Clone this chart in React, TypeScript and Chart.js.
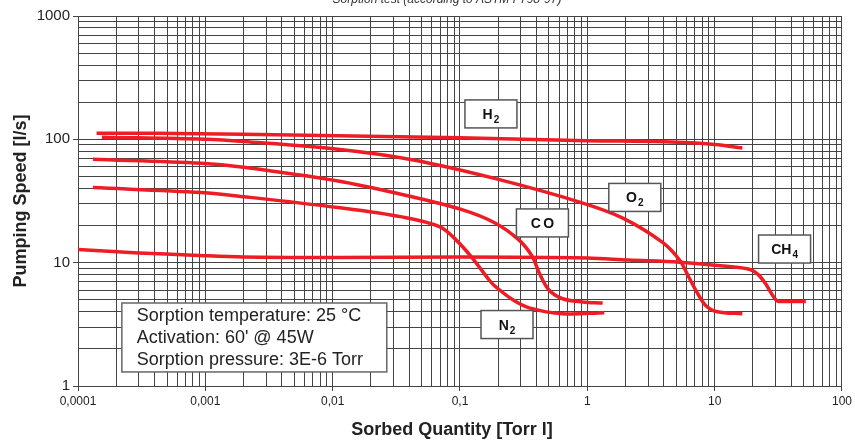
import React, { useEffect, useRef } from 'react';
import { Chart, registerables } from 'chart.js';

Chart.register(...registerables);

// ---- axis ticks ----
const xDecades = [0.0001, 0.001, 0.01, 0.1, 1, 10, 100];
const xTickLabels = ['0,0001', '0,001', '0,01', '0,1', '1', '10', '100'];
const yDecades = [1, 10, 100, 1000];
const yTickLabels = ['1', '10', '100', '1000'];

// ---- series (Sorbed Quantity [Torr l] vs Pumping Speed [l/s]) ----
const h2X = [0.00014, 0.0004, 0.002, 0.011, 0.1, 1, 4, 10, 16.5];
const h2Y = [112, 112, 110, 107, 103, 97.5, 95.5, 91, 85];

const o2X = [0.000154, 0.001, 0.002, 0.011, 0.043, 0.19, 0.87, 1.9, 3.9, 5.3, 6.2, 7.1, 8.5, 10.5, 16.5];
const o2Y = [104, 100, 96, 83, 68, 48, 31, 23, 14.6, 10.5, 7.8, 6.0, 4.5, 4.0, 3.85];

const coX = [0.000131, 0.00093, 0.002, 0.011, 0.032, 0.105, 0.19, 0.29, 0.37, 0.42, 0.5, 0.64, 0.92, 1.32];
const coY = [69, 64, 59.4, 46, 36.5, 26.8, 20.9, 15.3, 11.2, 8.2, 6.0, 5.1, 4.8, 4.7];

const n2X = [0.000131, 0.00093, 0.002, 0.011, 0.035, 0.069, 0.093, 0.126, 0.17, 0.19, 0.26, 0.35, 0.64, 1.36];
const n2Y = [40.6, 37, 34.3, 28, 23.5, 19.6, 15.3, 10.8, 7.2, 6.4, 5.0, 4.3, 3.85, 3.93];

const ch4X = [0.0001, 0.0003, 0.0008, 0.002, 0.011, 0.1, 1, 2.1, 5.3, 13, 19, 22, 25, 28, 31, 36, 52];
const ch4Y = [12.8, 12.0, 11.5, 11.1, 11.0, 11.1, 10.9, 10.5, 10.1, 9.3, 8.8, 8.0, 6.8, 5.6, 4.9, 4.85, 4.85];

// ---- gas label boxes (anchored in data space) ----
const gasMain = ['H', 'O', 'CO', 'CH', 'N'];
const gasSub = ['2', '2', '', '4', '2'];
const gasLabelX = [0.175, 2.36, 0.444, 35.4, 0.234];
const gasLabelY = [160.7, 33.8, 21.0, 12.9, 3.15];

// ---- info box ----
const infoLines = ['Sorption temperature: 25 °C', "Activation: 60' @ 45W", 'Sorption pressure: 3E-6 Torr'];
const infoBoxX = [0.000221, 0.0266];
const infoBoxY = [4.71, 1.3];

const chartTitle = 'Sorption test (according to ASTM F798-97)';
const xTitle = 'Sorbed Quantity [Torr l]';
const yTitle = 'Pumping Speed [l/s]';

const FONT = '"Liberation Sans", Arial, Helvetica, sans-serif';
const RED = '#ee1d25';
const GRID = '#444444';

function buildTicks(decades: number[]) {
  const out: number[] = [];
  for (let i = 0; i < decades.length - 1; i++) {
    for (let m = 1; m <= 9; m++) out.push(m * decades[i]);
  }
  out.push(decades[decades.length - 1]);
  return out;
}

function decadeIndex(v: number, decades: number[]) {
  for (let i = 0; i < decades.length; i++) {
    if (Math.abs(Math.log10(v) - Math.log10(decades[i])) < 1e-6) return i;
  }
  return -1;
}

function series(label: string, xs: number[], ys: number[]) {
  return {
    label,
    data: xs.map((x, i) => ({ x, y: ys[i] })),
    borderColor: RED,
    backgroundColor: RED,
    borderWidth: 3.5,
    pointRadius: 0,
    tension: 0.35,
    fill: false,
  };
}

const decorPlugin = {
  id: 'decor',
  afterDatasetsDraw(chart: any) {
    const ctx = chart.ctx;
    const xs = chart.scales.x;
    const ys = chart.scales.y;
    ctx.save();

    // gas labels
    for (let i = 0; i < gasMain.length; i++) {
      const cx = xs.getPixelForValue(gasLabelX[i]);
      const cy = ys.getPixelForValue(gasLabelY[i]);
      const w = 52;
      const h = 28;
      ctx.fillStyle = '#ffffff';
      ctx.fillRect(cx - w / 2, cy - h / 2, w, h);
      ctx.strokeStyle = '#555';
      ctx.lineWidth = 1.5;
      ctx.strokeRect(cx - w / 2, cy - h / 2, w, h);
      ctx.fillStyle = '#111';
      ctx.textBaseline = 'alphabetic';
      ctx.textAlign = 'left';
      const spacing = gasMain[i] === 'CO' ? 2.5 : 0;
      ctx.font = `bold 14px ${FONT}`;
      const chars = gasMain[i].split('');
      let mw = 0;
      chars.forEach((c, k) => {
        mw += ctx.measureText(c).width + (k < chars.length - 1 ? spacing : 0);
      });
      ctx.font = `bold 10px ${FONT}`;
      const sw = gasSub[i] ? ctx.measureText(gasSub[i]).width + 1 : 0;
      let px = cx - (mw + sw) / 2;
      const base = cy + 5;
      ctx.font = `bold 14px ${FONT}`;
      chars.forEach((c) => {
        ctx.fillText(c, px, base);
        px += ctx.measureText(c).width + spacing;
      });
      px -= spacing;
      if (gasSub[i]) {
        ctx.font = `bold 10px ${FONT}`;
        ctx.fillText(gasSub[i], px + 1, base + 4);
      }
    }

    // info box
    const bx0 = xs.getPixelForValue(infoBoxX[0]);
    const bx1 = xs.getPixelForValue(infoBoxX[1]);
    const by0 = ys.getPixelForValue(infoBoxY[0]);
    const by1 = ys.getPixelForValue(infoBoxY[1]);
    ctx.fillStyle = '#ffffff';
    ctx.fillRect(bx0, by0, bx1 - bx0, by1 - by0);
    ctx.strokeStyle = '#666';
    ctx.lineWidth = 1.5;
    ctx.strokeRect(bx0, by0, bx1 - bx0, by1 - by0);
    ctx.fillStyle = '#222';
    ctx.font = `18px ${FONT}`;
    ctx.textAlign = 'left';
    ctx.textBaseline = 'middle';
    infoLines.forEach((t, i) => {
      ctx.fillText(t, bx0 + 15, by0 + 13.5 + i * 22);
    });
    ctx.restore();
  },
  afterDraw(chart: any) {
    const ctx = chart.ctx;
    const area = chart.chartArea;
    ctx.save();
    // top title (clipped at the top edge)
    ctx.fillStyle = '#333';
    ctx.font = `italic 12px ${FONT}`;
    ctx.textAlign = 'center';
    ctx.textBaseline = 'alphabetic';
    ctx.fillText(chartTitle, 447, 3);

    // x axis title
    ctx.fillStyle = '#222';
    ctx.font = `bold 18px ${FONT}`;
    ctx.textBaseline = 'middle';
    ctx.fillText(xTitle, (area.left + area.right) / 2 - 8, 430);

    // y axis title
    ctx.translate(21, (area.top + area.bottom) / 2);
    ctx.rotate(-Math.PI / 2);
    ctx.fillText(yTitle, 0, 0);
    ctx.restore();
  },
};

export default function App() {
  const ref = useRef<HTMLCanvasElement | null>(null);

  useEffect(() => {
    if (!ref.current) return;
    const xTickValues = buildTicks(xDecades);
    const yTickValues = buildTicks(yDecades);

    const chart = new Chart(ref.current, {
      type: 'line',
      data: {
        datasets: [
          series('H2', h2X, h2Y),
          series('O2', o2X, o2Y),
          series('CO', coX, coY),
          series('N2', n2X, n2Y),
          series('CH4', ch4X, ch4Y),
        ],
      },
      options: {
        animation: false,
        responsive: false,
        maintainAspectRatio: false,
        layout: { padding: { top: 16, right: 12, left: 0, bottom: 0 } },
        plugins: {
          legend: { display: false },
          tooltip: { enabled: false },
          title: { display: false },
        },
        scales: {
          x: {
            type: 'logarithmic',
            min: 0.0001,
            max: 100,
            afterBuildTicks: (scale: any) => {
              scale.ticks = xTickValues.map((v) => ({ value: v }));
            },
            afterFit: (scale: any) => {
              scale.height = 57;
            },
            ticks: {
              autoSkip: false,
              maxRotation: 0,
              minRotation: 0,
              padding: 3,
              color: '#222',
              font: { family: FONT, size: 12 },
              callback: (value: any) => {
                const i = decadeIndex(Number(value), xDecades);
                return i >= 0 ? xTickLabels[i] : '';
              },
            },
            grid: {
              color: GRID,
              lineWidth: 1,
              drawTicks: true,
              tickLength: 5,
              tickColor: (c: any) =>
                c.tick && decadeIndex(c.tick.value, xDecades) >= 0 ? GRID : 'rgba(0,0,0,0)',
            },
            border: { display: true, color: GRID, width: 1 },
          },
          y: {
            type: 'logarithmic',
            min: 1,
            max: 1000,
            afterBuildTicks: (scale: any) => {
              scale.ticks = yTickValues.map((v) => ({ value: v }));
            },
            afterFit: (scale: any) => {
              scale.width = 78;
            },
            ticks: {
              autoSkip: false,
              padding: 3,
              color: '#222',
              font: { family: FONT, size: 15 },
              callback: (value: any) => {
                const i = decadeIndex(Number(value), yDecades);
                return i >= 0 ? yTickLabels[i] : '';
              },
            },
            grid: {
              color: GRID,
              lineWidth: 1,
              drawTicks: true,
              tickLength: 5,
              tickColor: (c: any) =>
                c.tick && decadeIndex(c.tick.value, yDecades) >= 0 ? GRID : 'rgba(0,0,0,0)',
            },
            border: { display: true, color: GRID, width: 1 },
          },
        },
      },
      plugins: [decorPlugin],
    });
    return () => chart.destroy();
  }, []);

  return (
    <div style={{ position: 'fixed', left: 0, top: 0, width: 855, height: 443, background: '#fff' }}>
      <canvas ref={ref} width={855} height={443} style={{ display: 'block', width: 855, height: 443 }} />
    </div>
  );
}
